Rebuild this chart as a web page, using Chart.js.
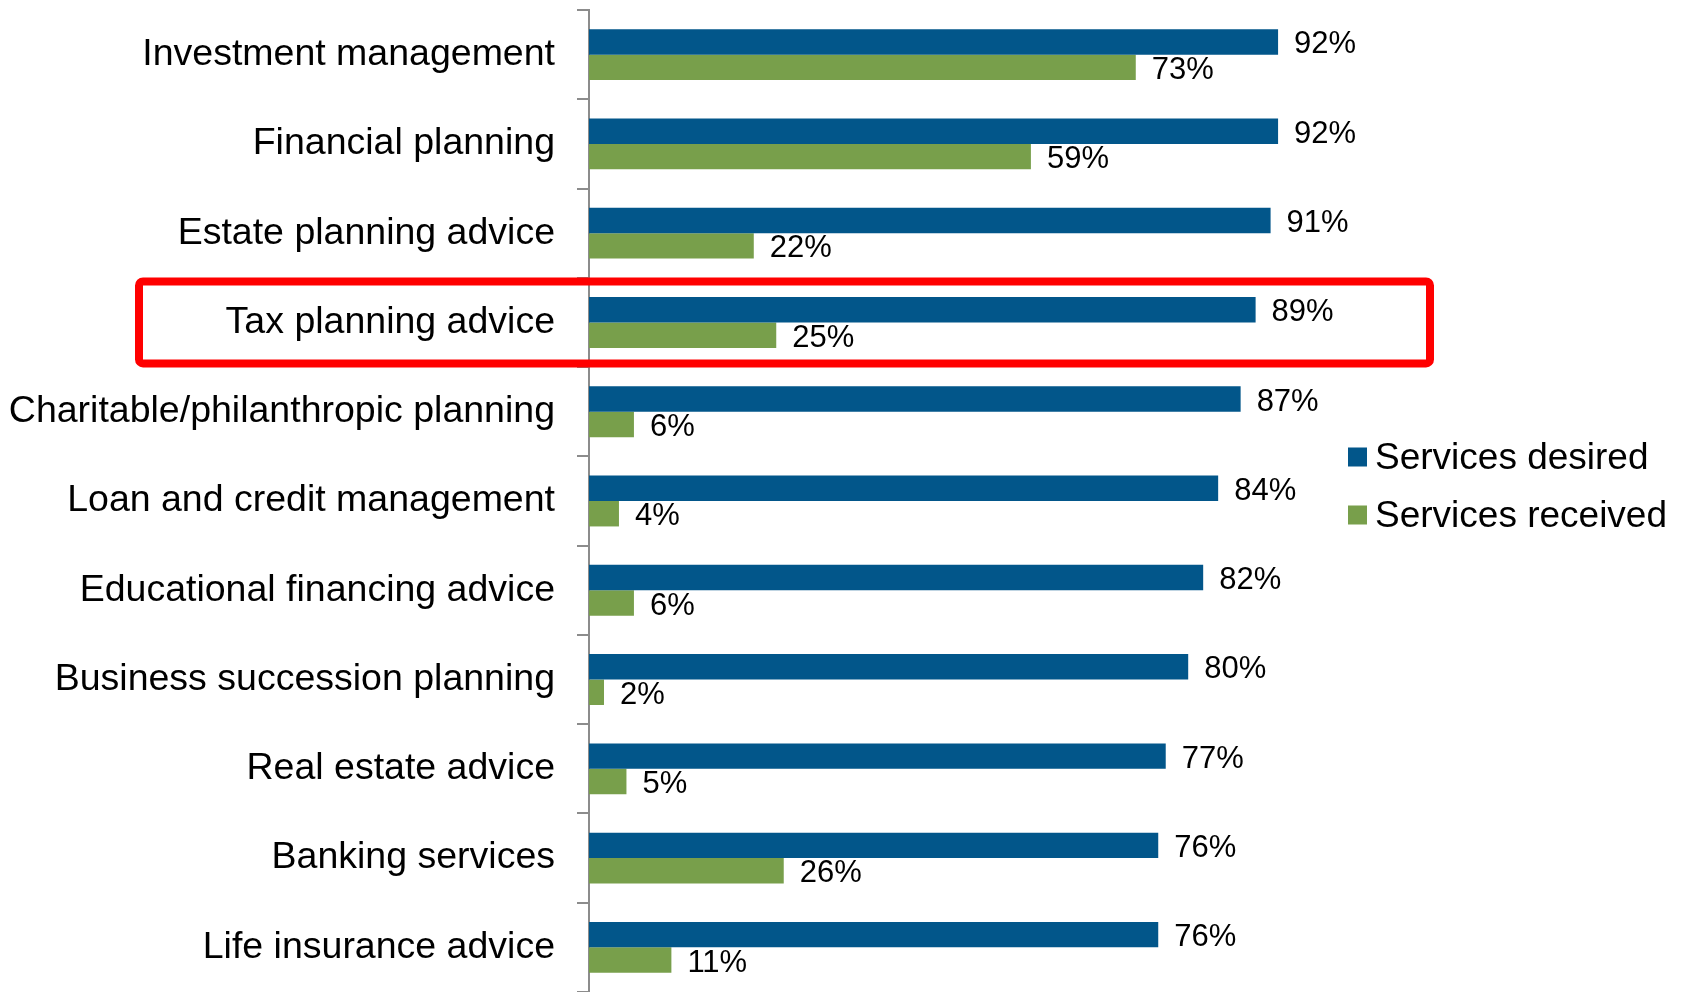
<!DOCTYPE html>
<html>
<head>
<meta charset="utf-8">
<script src="https://cdn.jsdelivr.net/npm/chart.js@4.4.1/dist/chart.umd.min.js"></script>
<style>
  html, body { margin: 0; padding: 0; background: #fff; overflow: hidden; }
  #wrap { width: 1691px; height: 992px; position: relative; }
</style>
</head>
<body>
<div id="wrap"><canvas id="barChart"></canvas></div>
<script>
var categories = [
    'Investment management',
    'Financial planning',
    'Estate planning advice',
    'Tax planning advice',
    'Charitable/philanthropic planning',
    'Loan and credit management',
    'Educational financing advice',
    'Business succession planning',
    'Real estate advice',
    'Banking services',
    'Life insurance advice'
];
var desired = [92, 92, 91, 89, 87, 84, 82, 80, 77, 76, 76];
var received = [73, 59, 22, 25, 6, 4, 6, 2, 5, 26, 11];
var highlightIndex = 3;

var FONT = '"Liberation Sans", Arial, sans-serif';

// value labels at the end of each bar
var valueLabels = {
    id: 'valueLabels',
    afterDatasetsDraw: function (chart) {
        var ctx = chart.ctx;
        ctx.save();
        ctx.font = '31px ' + FONT;
        ctx.fillStyle = '#000';
        ctx.textBaseline = 'middle';
        ctx.textAlign = 'left';
        chart.data.datasets.forEach(function (ds, i) {
            chart.getDatasetMeta(i).data.forEach(function (bar, j) {
                ctx.fillText(ds.data[j] + '%', bar.x + 16, bar.y + 3);
            });
        });
        ctx.restore();
    }
};

// red highlight box round one category
var highlightBox = {
    id: 'highlightBox',
    afterDraw: function (chart) {
        var ctx = chart.ctx;
        var y = chart.scales.y, x = chart.scales.x;
        var cy = y.getPixelForValue(highlightIndex);
        var left = chart.chartArea.left - 450;
        var right = x.getPixelForValue(100) + 92;
        ctx.save();
        ctx.strokeStyle = '#ff0000';
        ctx.lineWidth = 8;
        ctx.beginPath();
        ctx.roundRect(left, cy - 41, right - left, 82, 4);
        ctx.stroke();
        ctx.restore();
    }
};

// legend drawn by hand, square + label, to the right of the plot
var sideLegend = {
    id: 'sideLegend',
    afterDraw: function (chart) {
        var ctx = chart.ctx;
        var area = chart.chartArea;
        var x = area.right + 10;
        var y = (area.top + area.bottom) / 2 - 44;
        ctx.save();
        ctx.font = '37px ' + FONT;
        ctx.textBaseline = 'middle';
        ctx.textAlign = 'left';
        chart.data.datasets.forEach(function (ds, i) {
            var cy = y + i * 58;
            ctx.fillStyle = ds.backgroundColor;
            ctx.fillRect(x, cy - 9.5, 19, 19);
            ctx.fillStyle = '#000';
            ctx.fillText(ds.label, x + 27, cy + 2);
        });
        ctx.restore();
    }
};

var barChartData = {
    labels: categories,
    datasets: [
        { label: 'Services desired', data: desired, backgroundColor: '#02568A' },
        { label: 'Services received', data: received, backgroundColor: '#789F4B' }
    ]
};

var barChartOptions = {
    indexAxis: 'y',
    responsive: true,
    maintainAspectRatio: false,
    animation: false,
    layout: { padding: { top: 10, bottom: 0, left: 0, right: 353 } },
    datasets: { bar: { categoryPercentage: 0.57, barPercentage: 1 } },
    scales: {
        x: { display: false, min: 0, max: 100 },
        y: {
            afterFit: function (scale) {
                scale.width = 589;
                scale.paddingTop = 0;
                scale.paddingBottom = 0;
            },
            border: { display: true, color: '#8c8c8c', width: 2 },
            grid: { offset: true, drawOnChartArea: false, drawTicks: true, tickLength: 12, color: '#8c8c8c', lineWidth: 2 },
            ticks: { color: '#000', font: { family: FONT, size: 37.5 }, padding: 22, autoSkip: false }
        }
    },
    plugins: {
        legend: { display: false },
        tooltip: { enabled: false }
    }
};

var barChartCanvas = document.getElementById('barChart').getContext('2d');
var barChart = new Chart(barChartCanvas, {
    type: 'bar',
    data: barChartData,
    options: barChartOptions,
    plugins: [valueLabels, highlightBox, sideLegend]
});
</script>
</body>
</html>
